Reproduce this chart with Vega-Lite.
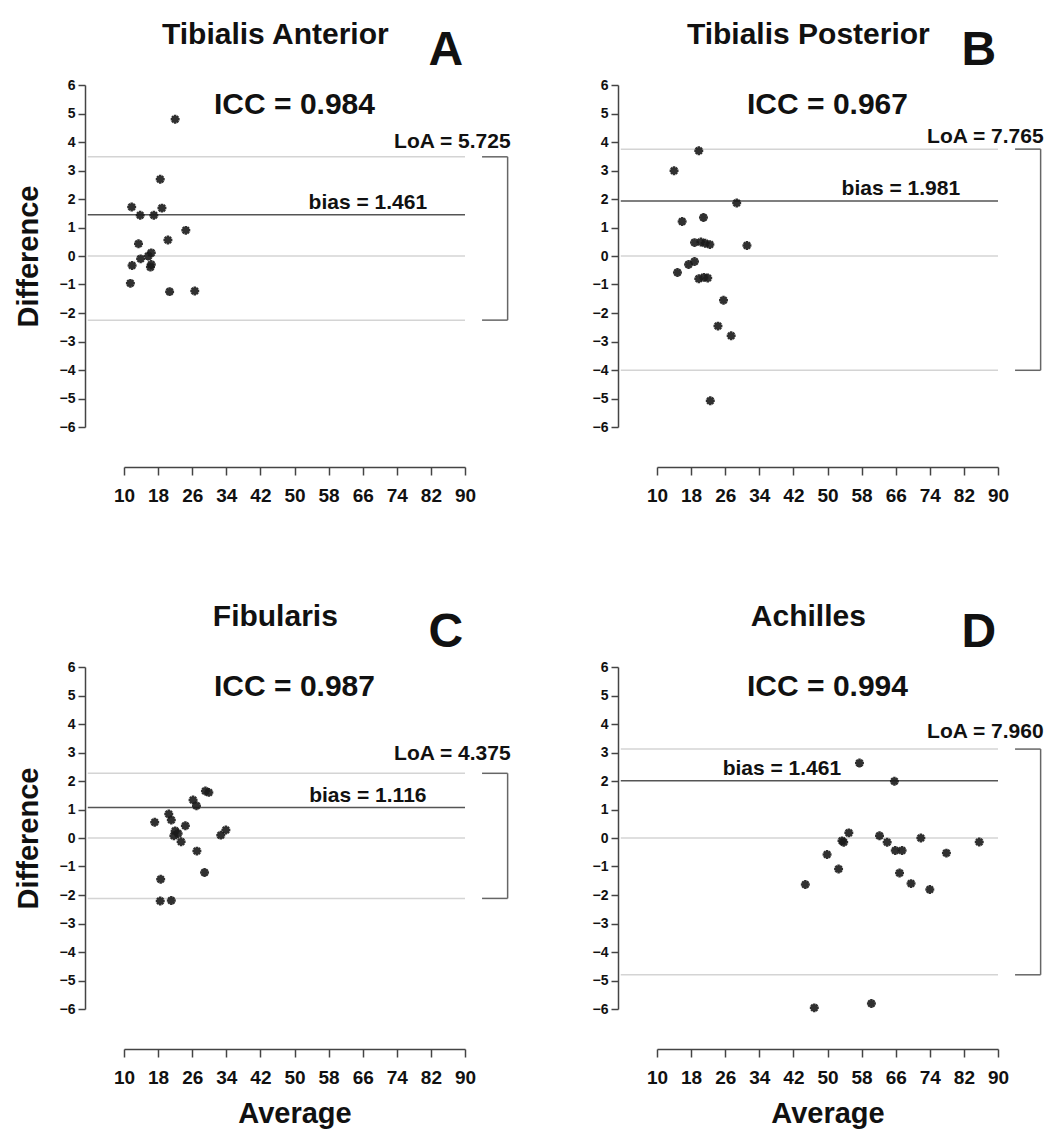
{
  "$schema": "https://vega.github.io/schema/vega-lite/v6.json",
  "background": "white",
  "padding": {"left": 14, "top": 20, "right": 5, "bottom": 2},
  "datasets": {
    "stats": [
      {"panel": "A", "muscle": "Tibialis Anterior", "letter": "A", "iccLabel": "ICC = 0.984", "biasLabel": "bias = 1.461", "loaLabel": "LoA = 5.725", "bias": 1.45, "upper": 3.48, "lower": -2.25},
      {"panel": "B", "muscle": "Tibialis Posterior", "letter": "B", "iccLabel": "ICC = 0.967", "biasLabel": "bias = 1.981", "loaLabel": "LoA = 7.765", "bias": 1.93, "upper": 3.75, "lower": -4.01},
      {"panel": "C", "muscle": "Fibularis", "letter": "C", "iccLabel": "ICC = 0.987", "biasLabel": "bias = 1.116", "loaLabel": "LoA = 4.375", "bias": 1.07, "upper": 2.27, "lower": -2.12},
      {"panel": "D", "muscle": "Achilles", "letter": "D", "iccLabel": "ICC = 0.994", "biasLabel": "bias = 1.461", "loaLabel": "LoA = 7.960", "bias": 2.01, "upper": 3.12, "lower": -4.8}
    ],
    "points": [
      {"panel": "A", "average": 22.0, "difference": 4.8},
      {"panel": "A", "average": 18.5, "difference": 2.69},
      {"panel": "A", "average": 11.8, "difference": 1.72},
      {"panel": "A", "average": 18.9, "difference": 1.68},
      {"panel": "A", "average": 13.8, "difference": 1.43},
      {"panel": "A", "average": 17.0, "difference": 1.43},
      {"panel": "A", "average": 24.5, "difference": 0.9},
      {"panel": "A", "average": 13.4, "difference": 0.43},
      {"panel": "A", "average": 20.3, "difference": 0.56},
      {"panel": "A", "average": 16.4, "difference": 0.11},
      {"panel": "A", "average": 15.7, "difference": 0.0},
      {"panel": "A", "average": 13.9, "difference": -0.1},
      {"panel": "A", "average": 11.9, "difference": -0.33},
      {"panel": "A", "average": 16.2, "difference": -0.39},
      {"panel": "A", "average": 16.4, "difference": -0.3},
      {"panel": "A", "average": 11.5, "difference": -0.96},
      {"panel": "A", "average": 20.7, "difference": -1.25},
      {"panel": "A", "average": 26.6, "difference": -1.23},
      {"panel": "B", "average": 19.8, "difference": 3.69},
      {"panel": "B", "average": 14.0, "difference": 2.99},
      {"panel": "B", "average": 28.7, "difference": 1.86},
      {"panel": "B", "average": 15.9, "difference": 1.21},
      {"panel": "B", "average": 20.9, "difference": 1.35},
      {"panel": "B", "average": 18.8, "difference": 0.47},
      {"panel": "B", "average": 20.3, "difference": 0.49},
      {"panel": "B", "average": 21.3, "difference": 0.45},
      {"panel": "B", "average": 22.4, "difference": 0.4},
      {"panel": "B", "average": 31.1, "difference": 0.37},
      {"panel": "B", "average": 17.4, "difference": -0.3},
      {"panel": "B", "average": 18.8, "difference": -0.19},
      {"panel": "B", "average": 14.8, "difference": -0.58},
      {"panel": "B", "average": 19.8, "difference": -0.8},
      {"panel": "B", "average": 21.0, "difference": -0.75},
      {"panel": "B", "average": 21.9, "difference": -0.77},
      {"panel": "B", "average": 25.6, "difference": -1.55},
      {"panel": "B", "average": 24.3, "difference": -2.46},
      {"panel": "B", "average": 27.4, "difference": -2.8},
      {"panel": "B", "average": 22.5, "difference": -5.08},
      {"panel": "C", "average": 17.2, "difference": 0.55},
      {"panel": "C", "average": 20.5, "difference": 0.84},
      {"panel": "C", "average": 21.1, "difference": 0.63},
      {"panel": "C", "average": 22.0, "difference": 0.25},
      {"panel": "C", "average": 21.7, "difference": 0.08},
      {"panel": "C", "average": 22.7, "difference": 0.16},
      {"panel": "C", "average": 23.4, "difference": -0.13},
      {"panel": "C", "average": 24.4, "difference": 0.43},
      {"panel": "C", "average": 26.2, "difference": 1.33},
      {"panel": "C", "average": 27.0, "difference": 1.13},
      {"panel": "C", "average": 29.1, "difference": 1.65},
      {"panel": "C", "average": 29.9, "difference": 1.6},
      {"panel": "C", "average": 27.1, "difference": -0.46},
      {"panel": "C", "average": 28.9, "difference": -1.21},
      {"panel": "C", "average": 32.7, "difference": 0.1},
      {"panel": "C", "average": 33.9, "difference": 0.28},
      {"panel": "C", "average": 18.6, "difference": -1.45},
      {"panel": "C", "average": 18.5, "difference": -2.21},
      {"panel": "C", "average": 21.1, "difference": -2.19},
      {"panel": "D", "average": 57.5, "difference": 2.63},
      {"panel": "D", "average": 65.7, "difference": 1.99},
      {"panel": "D", "average": 55.0, "difference": 0.18},
      {"panel": "D", "average": 53.8, "difference": -0.15},
      {"panel": "D", "average": 53.4, "difference": -0.1},
      {"panel": "D", "average": 49.9, "difference": -0.58},
      {"panel": "D", "average": 52.6, "difference": -1.09},
      {"panel": "D", "average": 44.8, "difference": -1.63},
      {"panel": "D", "average": 62.2, "difference": 0.08},
      {"panel": "D", "average": 64.0, "difference": -0.15},
      {"panel": "D", "average": 65.9, "difference": -0.44},
      {"panel": "D", "average": 67.5, "difference": -0.44},
      {"panel": "D", "average": 71.9, "difference": 0.0},
      {"panel": "D", "average": 77.9, "difference": -0.53},
      {"panel": "D", "average": 85.6, "difference": -0.14},
      {"panel": "D", "average": 66.9, "difference": -1.23},
      {"panel": "D", "average": 69.6, "difference": -1.6},
      {"panel": "D", "average": 74.0, "difference": -1.81},
      {"panel": "D", "average": 46.9, "difference": -5.96},
      {"panel": "D", "average": 60.3, "difference": -5.81}
    ]
  },
  "vconcat": [
    {
      "spacing": 81,
      "hconcat": [
        {
          "width": 341, "height": 342,
          "data": {"name": "stats"},
          "transform": [{"filter": "datum.panel === 'A'"}],
          "layer": [
            {"mark": {"type": "rule", "clip": false, "color": "#d4d4d4", "strokeWidth": 1.5}, "encoding": {"x": {"datum": 1.5, "type": "quantitative"}, "x2": {"datum": 90}, "y": {"datum": 0, "type": "quantitative"}}},
            {"mark": {"type": "rule", "clip": false, "color": "#d4d4d4", "strokeWidth": 1.5}, "encoding": {"x": {"datum": 1.5, "type": "quantitative"}, "x2": {"datum": 90}, "y": {"field": "upper", "type": "quantitative"}}},
            {"mark": {"type": "rule", "clip": false, "color": "#d4d4d4", "strokeWidth": 1.5}, "encoding": {"x": {"datum": 1.5, "type": "quantitative"}, "x2": {"datum": 90}, "y": {"field": "lower", "type": "quantitative"}}},
            {"mark": {"type": "rule", "clip": false, "color": "#555555", "strokeWidth": 1.5}, "encoding": {"x": {"datum": 1.5, "type": "quantitative"}, "x2": {"datum": 90}, "y": {"field": "bias", "type": "quantitative"}}},
            {"mark": {"type": "rule", "clip": false, "color": "#666666", "strokeWidth": 1.5}, "encoding": {"x": {"datum": 94, "type": "quantitative"}, "x2": {"datum": 100}, "y": {"field": "upper", "type": "quantitative"}}},
            {"mark": {"type": "rule", "clip": false, "color": "#666666", "strokeWidth": 1.5}, "encoding": {"x": {"datum": 94, "type": "quantitative"}, "x2": {"datum": 100}, "y": {"field": "lower", "type": "quantitative"}}},
            {"mark": {"type": "rule", "clip": false, "color": "#666666", "strokeWidth": 1.5}, "encoding": {"x": {"datum": 100, "type": "quantitative"}, "y": {"field": "lower", "type": "quantitative"}, "y2": {"field": "upper"}}},
            {"data": {"name": "points"}, "transform": [{"filter": "datum.panel === 'A'"}],
             "mark": {"type": "point", "shape": "M-1,0L1,0M0,-1L0,1M-0.7,-0.7L0.7,0.7M-0.7,0.7L0.7,-0.7", "filled": false, "size": 80, "strokeWidth": 2.5, "color": "#1a1a1a", "opacity": 0.9, "clip": false},
             "encoding": {"x": {"field": "average", "type": "quantitative", "scale": {"domain": [10, 90], "nice": false, "zero": false}, "axis": {"title": null, "format": "d", "values": [10, 18, 26, 34, 42, 50, 58, 66, 74, 82, 90]}},
                          "y": {"field": "difference", "type": "quantitative", "scale": {"domain": [-6, 6], "nice": false}, "axis": {"title": "Difference", "format": "d", "values": [-6, -5, -4, -3, -2, -1, 0, 1, 2, 3, 4, 5, 6]}}}},
            {"mark": {"type": "text", "clip": false, "font": "Liberation Sans", "fontWeight": "bold", "fontSize": 30, "align": "center", "baseline": "alphabetic", "color": "#111"}, "encoding": {"x": {"datum": 50, "type": "quantitative"}, "y": {"datum": 5.0, "type": "quantitative"}, "text": {"field": "iccLabel"}}},
            {"mark": {"type": "text", "clip": false, "font": "Liberation Sans", "fontWeight": "bold", "fontSize": 21, "align": "center", "baseline": "alphabetic", "dy": -6, "color": "#111"}, "encoding": {"x": {"datum": 67.2, "type": "quantitative"}, "y": {"field": "bias", "type": "quantitative"}, "text": {"field": "biasLabel"}}},
            {"mark": {"type": "text", "clip": false, "font": "Liberation Sans", "fontWeight": "bold", "fontSize": 21, "align": "right", "baseline": "alphabetic", "dy": -9, "color": "#111"}, "encoding": {"x": {"datum": 100.7, "type": "quantitative"}, "y": {"field": "upper", "type": "quantitative"}, "text": {"field": "loaLabel"}}},
            {"mark": {"type": "text", "clip": false, "font": "Liberation Sans", "fontWeight": "bold", "fontSize": 30, "align": "center", "baseline": "alphabetic", "color": "#111"}, "encoding": {"x": {"datum": 45.5, "type": "quantitative"}, "y": {"datum": 7.43, "type": "quantitative"}, "text": {"field": "muscle"}}},
            {"mark": {"type": "text", "clip": false, "font": "Liberation Sans", "fontWeight": "bold", "fontSize": 48, "align": "center", "baseline": "alphabetic", "color": "#111"}, "encoding": {"x": {"datum": 85.5, "type": "quantitative"}, "y": {"datum": 6.7, "type": "quantitative"}, "text": {"field": "letter"}}}
          ]
        },
        {
          "width": 341, "height": 342,
          "data": {"name": "stats"},
          "transform": [{"filter": "datum.panel === 'B'"}],
          "layer": [
            {"mark": {"type": "rule", "clip": false, "color": "#d4d4d4", "strokeWidth": 1.5}, "encoding": {"x": {"datum": 1.5, "type": "quantitative"}, "x2": {"datum": 90}, "y": {"datum": 0, "type": "quantitative"}}},
            {"mark": {"type": "rule", "clip": false, "color": "#d4d4d4", "strokeWidth": 1.5}, "encoding": {"x": {"datum": 1.5, "type": "quantitative"}, "x2": {"datum": 90}, "y": {"field": "upper", "type": "quantitative"}}},
            {"mark": {"type": "rule", "clip": false, "color": "#d4d4d4", "strokeWidth": 1.5}, "encoding": {"x": {"datum": 1.5, "type": "quantitative"}, "x2": {"datum": 90}, "y": {"field": "lower", "type": "quantitative"}}},
            {"mark": {"type": "rule", "clip": false, "color": "#555555", "strokeWidth": 1.5}, "encoding": {"x": {"datum": 1.5, "type": "quantitative"}, "x2": {"datum": 90}, "y": {"field": "bias", "type": "quantitative"}}},
            {"mark": {"type": "rule", "clip": false, "color": "#666666", "strokeWidth": 1.5}, "encoding": {"x": {"datum": 94, "type": "quantitative"}, "x2": {"datum": 100}, "y": {"field": "upper", "type": "quantitative"}}},
            {"mark": {"type": "rule", "clip": false, "color": "#666666", "strokeWidth": 1.5}, "encoding": {"x": {"datum": 94, "type": "quantitative"}, "x2": {"datum": 100}, "y": {"field": "lower", "type": "quantitative"}}},
            {"mark": {"type": "rule", "clip": false, "color": "#666666", "strokeWidth": 1.5}, "encoding": {"x": {"datum": 100, "type": "quantitative"}, "y": {"field": "lower", "type": "quantitative"}, "y2": {"field": "upper"}}},
            {"data": {"name": "points"}, "transform": [{"filter": "datum.panel === 'B'"}],
             "mark": {"type": "point", "shape": "M-1,0L1,0M0,-1L0,1M-0.7,-0.7L0.7,0.7M-0.7,0.7L0.7,-0.7", "filled": false, "size": 80, "strokeWidth": 2.5, "color": "#1a1a1a", "opacity": 0.9, "clip": false},
             "encoding": {"x": {"field": "average", "type": "quantitative", "scale": {"domain": [10, 90], "nice": false, "zero": false}, "axis": {"title": null, "format": "d", "values": [10, 18, 26, 34, 42, 50, 58, 66, 74, 82, 90]}},
                          "y": {"field": "difference", "type": "quantitative", "scale": {"domain": [-6, 6], "nice": false}, "axis": {"title": null, "format": "d", "values": [-6, -5, -4, -3, -2, -1, 0, 1, 2, 3, 4, 5, 6]}}}},
            {"mark": {"type": "text", "clip": false, "font": "Liberation Sans", "fontWeight": "bold", "fontSize": 30, "align": "center", "baseline": "alphabetic", "color": "#111"}, "encoding": {"x": {"datum": 50, "type": "quantitative"}, "y": {"datum": 5.0, "type": "quantitative"}, "text": {"field": "iccLabel"}}},
            {"mark": {"type": "text", "clip": false, "font": "Liberation Sans", "fontWeight": "bold", "fontSize": 21, "align": "center", "baseline": "alphabetic", "dy": -6, "color": "#111"}, "encoding": {"x": {"datum": 67.2, "type": "quantitative"}, "y": {"field": "bias", "type": "quantitative"}, "text": {"field": "biasLabel"}}},
            {"mark": {"type": "text", "clip": false, "font": "Liberation Sans", "fontWeight": "bold", "fontSize": 21, "align": "right", "baseline": "alphabetic", "dy": -6, "color": "#111"}, "encoding": {"x": {"datum": 100.7, "type": "quantitative"}, "y": {"field": "upper", "type": "quantitative"}, "text": {"field": "loaLabel"}}},
            {"mark": {"type": "text", "clip": false, "font": "Liberation Sans", "fontWeight": "bold", "fontSize": 30, "align": "center", "baseline": "alphabetic", "color": "#111"}, "encoding": {"x": {"datum": 45.5, "type": "quantitative"}, "y": {"datum": 7.43, "type": "quantitative"}, "text": {"field": "muscle"}}},
            {"mark": {"type": "text", "clip": false, "font": "Liberation Sans", "fontWeight": "bold", "fontSize": 48, "align": "center", "baseline": "alphabetic", "color": "#111"}, "encoding": {"x": {"datum": 85.5, "type": "quantitative"}, "y": {"datum": 6.7, "type": "quantitative"}, "text": {"field": "letter"}}}
          ]
        }
      ]
    },
    {
      "spacing": 81,
      "hconcat": [
        {
          "width": 341, "height": 342,
          "data": {"name": "stats"},
          "transform": [{"filter": "datum.panel === 'C'"}],
          "layer": [
            {"mark": {"type": "rule", "clip": false, "color": "#d4d4d4", "strokeWidth": 1.5}, "encoding": {"x": {"datum": 1.5, "type": "quantitative"}, "x2": {"datum": 90}, "y": {"datum": 0, "type": "quantitative"}}},
            {"mark": {"type": "rule", "clip": false, "color": "#d4d4d4", "strokeWidth": 1.5}, "encoding": {"x": {"datum": 1.5, "type": "quantitative"}, "x2": {"datum": 90}, "y": {"field": "upper", "type": "quantitative"}}},
            {"mark": {"type": "rule", "clip": false, "color": "#d4d4d4", "strokeWidth": 1.5}, "encoding": {"x": {"datum": 1.5, "type": "quantitative"}, "x2": {"datum": 90}, "y": {"field": "lower", "type": "quantitative"}}},
            {"mark": {"type": "rule", "clip": false, "color": "#555555", "strokeWidth": 1.5}, "encoding": {"x": {"datum": 1.5, "type": "quantitative"}, "x2": {"datum": 90}, "y": {"field": "bias", "type": "quantitative"}}},
            {"mark": {"type": "rule", "clip": false, "color": "#666666", "strokeWidth": 1.5}, "encoding": {"x": {"datum": 94, "type": "quantitative"}, "x2": {"datum": 100}, "y": {"field": "upper", "type": "quantitative"}}},
            {"mark": {"type": "rule", "clip": false, "color": "#666666", "strokeWidth": 1.5}, "encoding": {"x": {"datum": 94, "type": "quantitative"}, "x2": {"datum": 100}, "y": {"field": "lower", "type": "quantitative"}}},
            {"mark": {"type": "rule", "clip": false, "color": "#666666", "strokeWidth": 1.5}, "encoding": {"x": {"datum": 100, "type": "quantitative"}, "y": {"field": "lower", "type": "quantitative"}, "y2": {"field": "upper"}}},
            {"data": {"name": "points"}, "transform": [{"filter": "datum.panel === 'C'"}],
             "mark": {"type": "point", "shape": "M-1,0L1,0M0,-1L0,1M-0.7,-0.7L0.7,0.7M-0.7,0.7L0.7,-0.7", "filled": false, "size": 80, "strokeWidth": 2.5, "color": "#1a1a1a", "opacity": 0.9, "clip": false},
             "encoding": {"x": {"field": "average", "type": "quantitative", "scale": {"domain": [10, 90], "nice": false, "zero": false}, "axis": {"title": "Average", "format": "d", "values": [10, 18, 26, 34, 42, 50, 58, 66, 74, 82, 90]}},
                          "y": {"field": "difference", "type": "quantitative", "scale": {"domain": [-6, 6], "nice": false}, "axis": {"title": "Difference", "format": "d", "values": [-6, -5, -4, -3, -2, -1, 0, 1, 2, 3, 4, 5, 6]}}}},
            {"mark": {"type": "text", "clip": false, "font": "Liberation Sans", "fontWeight": "bold", "fontSize": 30, "align": "center", "baseline": "alphabetic", "color": "#111"}, "encoding": {"x": {"datum": 50, "type": "quantitative"}, "y": {"datum": 5.0, "type": "quantitative"}, "text": {"field": "iccLabel"}}},
            {"mark": {"type": "text", "clip": false, "font": "Liberation Sans", "fontWeight": "bold", "fontSize": 21, "align": "center", "baseline": "alphabetic", "dy": -6, "color": "#111"}, "encoding": {"x": {"datum": 67.2, "type": "quantitative"}, "y": {"field": "bias", "type": "quantitative"}, "text": {"field": "biasLabel"}}},
            {"mark": {"type": "text", "clip": false, "font": "Liberation Sans", "fontWeight": "bold", "fontSize": 21, "align": "right", "baseline": "alphabetic", "dy": -13, "color": "#111"}, "encoding": {"x": {"datum": 100.7, "type": "quantitative"}, "y": {"field": "upper", "type": "quantitative"}, "text": {"field": "loaLabel"}}},
            {"mark": {"type": "text", "clip": false, "font": "Liberation Sans", "fontWeight": "bold", "fontSize": 30, "align": "center", "baseline": "alphabetic", "color": "#111"}, "encoding": {"x": {"datum": 45.5, "type": "quantitative"}, "y": {"datum": 7.43, "type": "quantitative"}, "text": {"field": "muscle"}}},
            {"mark": {"type": "text", "clip": false, "font": "Liberation Sans", "fontWeight": "bold", "fontSize": 48, "align": "center", "baseline": "alphabetic", "color": "#111"}, "encoding": {"x": {"datum": 85.5, "type": "quantitative"}, "y": {"datum": 6.7, "type": "quantitative"}, "text": {"field": "letter"}}}
          ]
        },
        {
          "width": 341, "height": 342,
          "data": {"name": "stats"},
          "transform": [{"filter": "datum.panel === 'D'"}],
          "layer": [
            {"mark": {"type": "rule", "clip": false, "color": "#d4d4d4", "strokeWidth": 1.5}, "encoding": {"x": {"datum": 1.5, "type": "quantitative"}, "x2": {"datum": 90}, "y": {"datum": 0, "type": "quantitative"}}},
            {"mark": {"type": "rule", "clip": false, "color": "#d4d4d4", "strokeWidth": 1.5}, "encoding": {"x": {"datum": 1.5, "type": "quantitative"}, "x2": {"datum": 90}, "y": {"field": "upper", "type": "quantitative"}}},
            {"mark": {"type": "rule", "clip": false, "color": "#d4d4d4", "strokeWidth": 1.5}, "encoding": {"x": {"datum": 1.5, "type": "quantitative"}, "x2": {"datum": 90}, "y": {"field": "lower", "type": "quantitative"}}},
            {"mark": {"type": "rule", "clip": false, "color": "#555555", "strokeWidth": 1.5}, "encoding": {"x": {"datum": 1.5, "type": "quantitative"}, "x2": {"datum": 90}, "y": {"field": "bias", "type": "quantitative"}}},
            {"mark": {"type": "rule", "clip": false, "color": "#666666", "strokeWidth": 1.5}, "encoding": {"x": {"datum": 94, "type": "quantitative"}, "x2": {"datum": 100}, "y": {"field": "upper", "type": "quantitative"}}},
            {"mark": {"type": "rule", "clip": false, "color": "#666666", "strokeWidth": 1.5}, "encoding": {"x": {"datum": 94, "type": "quantitative"}, "x2": {"datum": 100}, "y": {"field": "lower", "type": "quantitative"}}},
            {"mark": {"type": "rule", "clip": false, "color": "#666666", "strokeWidth": 1.5}, "encoding": {"x": {"datum": 100, "type": "quantitative"}, "y": {"field": "lower", "type": "quantitative"}, "y2": {"field": "upper"}}},
            {"data": {"name": "points"}, "transform": [{"filter": "datum.panel === 'D'"}],
             "mark": {"type": "point", "shape": "M-1,0L1,0M0,-1L0,1M-0.7,-0.7L0.7,0.7M-0.7,0.7L0.7,-0.7", "filled": false, "size": 80, "strokeWidth": 2.5, "color": "#1a1a1a", "opacity": 0.9, "clip": false},
             "encoding": {"x": {"field": "average", "type": "quantitative", "scale": {"domain": [10, 90], "nice": false, "zero": false}, "axis": {"title": "Average", "format": "d", "values": [10, 18, 26, 34, 42, 50, 58, 66, 74, 82, 90]}},
                          "y": {"field": "difference", "type": "quantitative", "scale": {"domain": [-6, 6], "nice": false}, "axis": {"title": null, "format": "d", "values": [-6, -5, -4, -3, -2, -1, 0, 1, 2, 3, 4, 5, 6]}}}},
            {"mark": {"type": "text", "clip": false, "font": "Liberation Sans", "fontWeight": "bold", "fontSize": 30, "align": "center", "baseline": "alphabetic", "color": "#111"}, "encoding": {"x": {"datum": 50, "type": "quantitative"}, "y": {"datum": 5.0, "type": "quantitative"}, "text": {"field": "iccLabel"}}},
            {"mark": {"type": "text", "clip": false, "font": "Liberation Sans", "fontWeight": "bold", "fontSize": 21, "align": "center", "baseline": "alphabetic", "dy": -6, "color": "#111"}, "encoding": {"x": {"datum": 39.3, "type": "quantitative"}, "y": {"field": "bias", "type": "quantitative"}, "text": {"field": "biasLabel"}}},
            {"mark": {"type": "text", "clip": false, "font": "Liberation Sans", "fontWeight": "bold", "fontSize": 21, "align": "right", "baseline": "alphabetic", "dy": -11, "color": "#111"}, "encoding": {"x": {"datum": 100.7, "type": "quantitative"}, "y": {"field": "upper", "type": "quantitative"}, "text": {"field": "loaLabel"}}},
            {"mark": {"type": "text", "clip": false, "font": "Liberation Sans", "fontWeight": "bold", "fontSize": 30, "align": "center", "baseline": "alphabetic", "color": "#111"}, "encoding": {"x": {"datum": 45.5, "type": "quantitative"}, "y": {"datum": 7.43, "type": "quantitative"}, "text": {"field": "muscle"}}},
            {"mark": {"type": "text", "clip": false, "font": "Liberation Sans", "fontWeight": "bold", "fontSize": 48, "align": "center", "baseline": "alphabetic", "color": "#111"}, "encoding": {"x": {"datum": 85.5, "type": "quantitative"}, "y": {"datum": 6.7, "type": "quantitative"}, "text": {"field": "letter"}}}
          ]
        }
      ]
    }
  ],
  "spacing": 97,
  "config": {
    "view": {"stroke": null},
    "axis": {"grid": false, "domainColor": "#444", "tickColor": "#444", "domainWidth": 1.5, "tickWidth": 1.5, "labelFont": "Liberation Sans", "labelFontWeight": "bold", "labelColor": "#111", "titleFont": "Liberation Sans", "titleFontWeight": "bold", "titleFontSize": 29, "titleColor": "#111", "tickCount": 30},
    "axisX": {"offset": 40, "tickSize": 8, "labelFontSize": 19, "labelPadding": 11, "titlePadding": 12, "labelFlush": false, "labelOverlap": false, "tickCount": 30},
    "axisY": {"offset": 39, "tickSize": 7, "labelFontSize": 14, "labelPadding": 3, "titlePadding": 16, "labelOverlap": false, "tickCount": 30}
  }
}
